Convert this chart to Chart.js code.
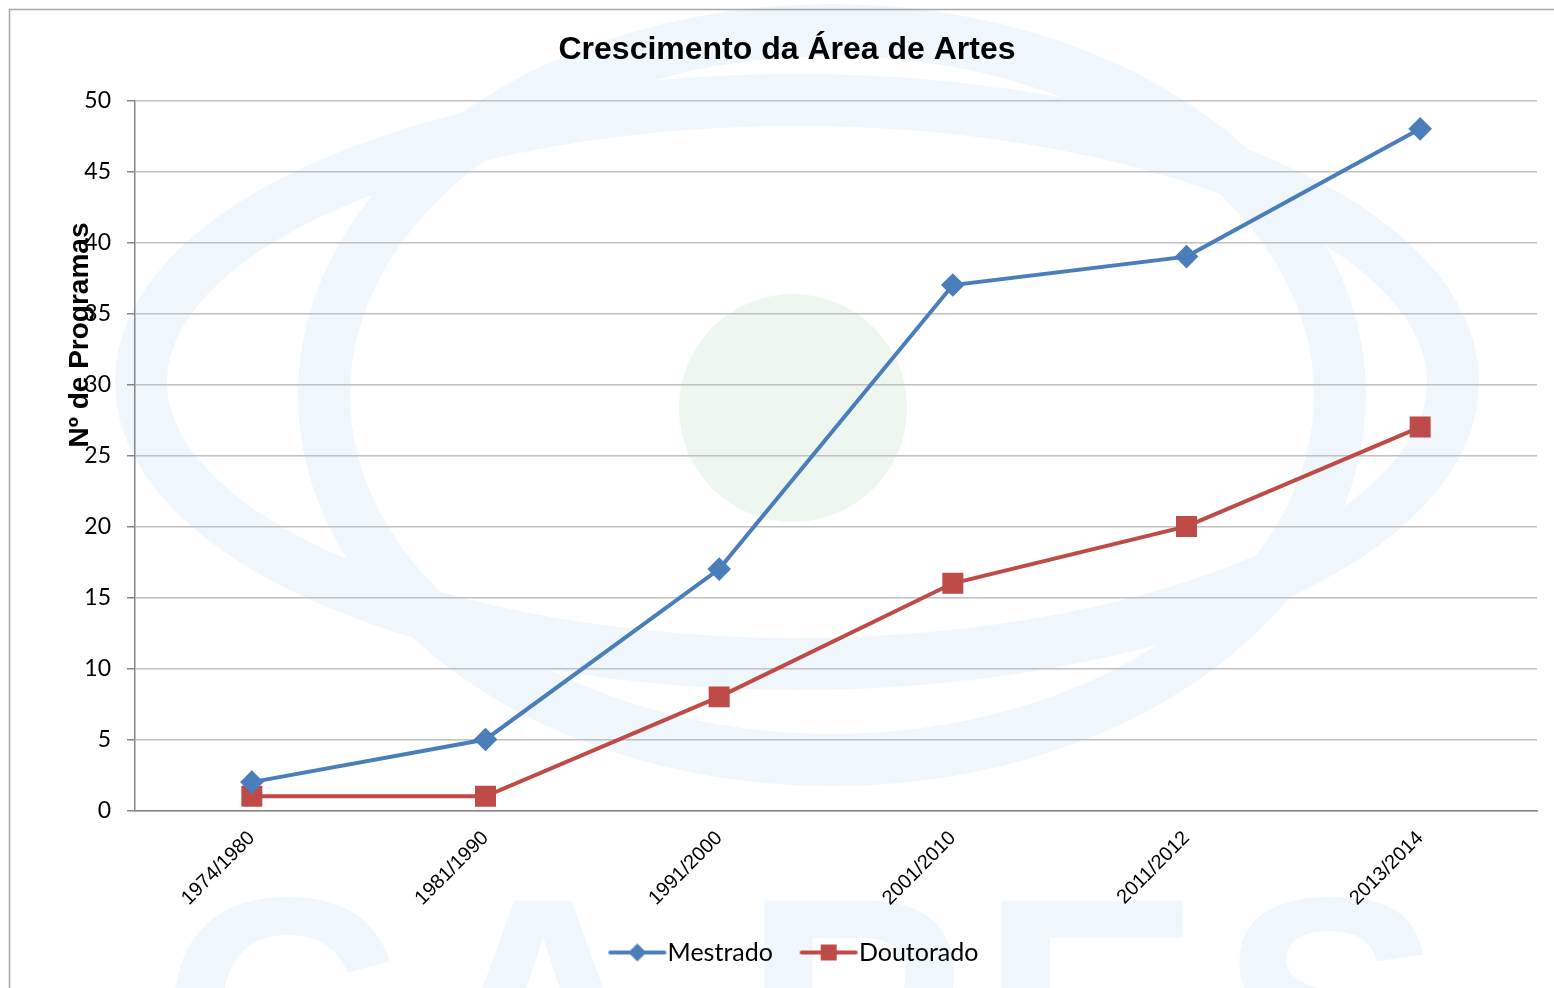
<!DOCTYPE html>
<html>
<head>
<meta charset="utf-8">
<script src="https://cdn.jsdelivr.net/npm/chart.js@4.4.0/dist/chart.umd.min.js"></script>
<style>
  html, body { margin: 0; padding: 0; background: #fff; }
  #wrap { width: 1554px; height: 988px; }
</style>
</head>
<body>
<div id="wrap"><canvas id="grafico"></canvas></div>
<script>
// Dados
const periodos = ['1974/1980', '1981/1990', '1991/2000', '2001/2010', '2011/2012', '2013/2014'];
const mestrado = [2, 5, 17, 37, 39, 48];
const doutorado = [1, 1, 8, 16, 20, 27];
const yTicks = [0, 5, 10, 15, 20, 25, 30, 35, 40, 45, 50];
const tituloEixoY = 'Nº de Programas';

const AZUL = '#4a7ebb';
const VERMELHO = '#be4b48';
const CLARO = '#eff7fc';
const ARIAL = '"Liberation Sans", Arial, sans-serif';

// Icone da legenda (linha + marcador); desenhado deslocado para a direita
// dentro da imagem para ficar colado ao texto
function iconeLegenda(cor, tipo) {
    const c = document.createElement('canvas');
    c.width = 100; c.height = 20;
    const g = c.getContext('2d');
    const x0 = 33, x1 = 91, xm = (x0 + x1) / 2;
    g.strokeStyle = cor; g.lineWidth = 4; g.lineCap = 'round';
    g.beginPath(); g.moveTo(x0 + 2, 10); g.lineTo(x1 - 2, 10); g.stroke();
    g.fillStyle = cor;
    g.beginPath();
    if (tipo === 'diamante') {
        g.moveTo(xm, 1); g.lineTo(xm + 9, 10); g.lineTo(xm, 19); g.lineTo(xm - 9, 10);
    } else {
        g.rect(xm - 8, 2, 16, 16);
    }
    g.closePath(); g.fill();
    return c;
}
const iconeMestrado = iconeLegenda(AZUL, 'diamante');
const iconeDoutorado = iconeLegenda(VERMELHO, 'quadrado');

// Marca d'agua da CAPES, moldura e titulo do eixo Y (fora do centro, como no original)
const fundo = {
    id: 'fundo',
    beforeDraw(chart) {
        const ctx = chart.ctx;
        ctx.save();
        ctx.fillStyle = '#fff';
        ctx.fillRect(0, 0, chart.width, chart.height);

        ctx.strokeStyle = CLARO;
        ctx.lineWidth = 52;
        ctx.beginPath();
        ctx.ellipse(797, 382, 656, 282, 0, 0, Math.PI * 2);
        ctx.stroke();
        ctx.beginPath();
        ctx.ellipse(832, 395, 508, 365, 0, 0, Math.PI * 2);
        ctx.stroke();

        ctx.fillStyle = '#eef7ef';
        ctx.beginPath();
        ctx.arc(793, 408, 114, 0, Math.PI * 2);
        ctx.fill();

        ctx.fillStyle = CLARO;
        ctx.font = 'bold 335px ' + ARIAL;
        ctx.textBaseline = 'alphabetic';
        ctx.textAlign = 'left';
        const letras = [['C', 160], ['A', 422], ['P', 742], ['E', 979], ['S', 1219]];
        letras.forEach(([l, x]) => ctx.fillText(l, x, 1131));

        ctx.strokeStyle = '#a6a6a6';
        ctx.lineWidth = 1.5;
        ctx.beginPath();
        ctx.moveTo(9.5, 988);
        ctx.lineTo(9.5, 9.5);
        ctx.lineTo(1554, 9.5);
        ctx.stroke();
        ctx.restore();
    },
    afterDraw(chart) {
        const ctx = chart.ctx;
        ctx.save();
        ctx.translate(80, 335);
        ctx.rotate(-Math.PI / 2);
        ctx.fillStyle = '#000';
        ctx.font = 'bold 28px ' + ARIAL;
        ctx.textAlign = 'center';
        ctx.textBaseline = 'middle';
        ctx.fillText(tituloEixoY, 0, 0);
        ctx.restore();
    }
};

const ctx = document.getElementById('grafico').getContext('2d');
new Chart(ctx, {
    type: 'line',
    data: {
        labels: periodos,
        datasets: [{
            label: 'Mestrado',
            data: mestrado,
            borderColor: AZUL,
            backgroundColor: AZUL,
            borderWidth: 4,
            pointStyle: 'rectRot',
            pointRadius: 9,
            pointHoverRadius: 9,
            tension: 0
        }, {
            label: 'Doutorado',
            data: doutorado,
            borderColor: VERMELHO,
            backgroundColor: VERMELHO,
            borderWidth: 4,
            pointStyle: 'rect',
            pointRadius: 12,
            pointHoverRadius: 12,
            tension: 0
        }]
    },
    options: {
        responsive: true,
        maintainAspectRatio: false,
        animation: false,
        layout: { padding: { left: 37, right: 17, top: 0, bottom: 13 } },
        plugins: {
            title: {
                display: true,
                text: 'Crescimento da Área de Artes',
                color: '#000',
                font: { family: ARIAL, size: 32, weight: 'bold' },
                padding: { top: 31, bottom: 31 }
            },
            legend: {
                position: 'bottom',
                labels: {
                    color: '#000',
                    font: { family: 'Lato, sans-serif', size: 25 },
                    usePointStyle: true,
                    pointStyleWidth: 59.5,
                    padding: 14,
                    generateLabels: (chart) => chart.data.datasets.map((ds, i) => ({
                        text: ds.label,
                        pointStyle: i === 0 ? iconeMestrado : iconeDoutorado,
                        fillStyle: ds.borderColor,
                        strokeStyle: ds.borderColor,
                        lineWidth: 0,
                        fontColor: '#000',
                        datasetIndex: i
                    }))
                }
            },
            tooltip: { enabled: false }
        },
        scales: {
            x: {
                offset: true,
                grid: { display: false },
                border: { display: true, color: '#868686', width: 1.5 },
                ticks: {
                    color: '#000',
                    minRotation: 45,
                    maxRotation: 45,
                    padding: 8,
                    font: { family: ARIAL, size: 20 }
                },
                afterFit: (s) => { s.height = 115.5; }
            },
            y: {
                min: 0,
                max: 50,
                afterBuildTicks: (s) => { s.ticks = yTicks.map(v => ({ value: v })); },
                grid: { color: '#c0c0c0', lineWidth: 1.5, tickColor: '#868686', tickLength: 8 },
                border: { display: true, color: '#868686', width: 1.5 },
                ticks: {
                    color: '#000',
                    padding: 16,
                    font: { family: 'Lato, sans-serif', size: 23 }
                },
                afterFit: (s) => { s.width = 98; }
            }
        }
    },
    plugins: [fundo]
});
</script>
</body>
</html>
